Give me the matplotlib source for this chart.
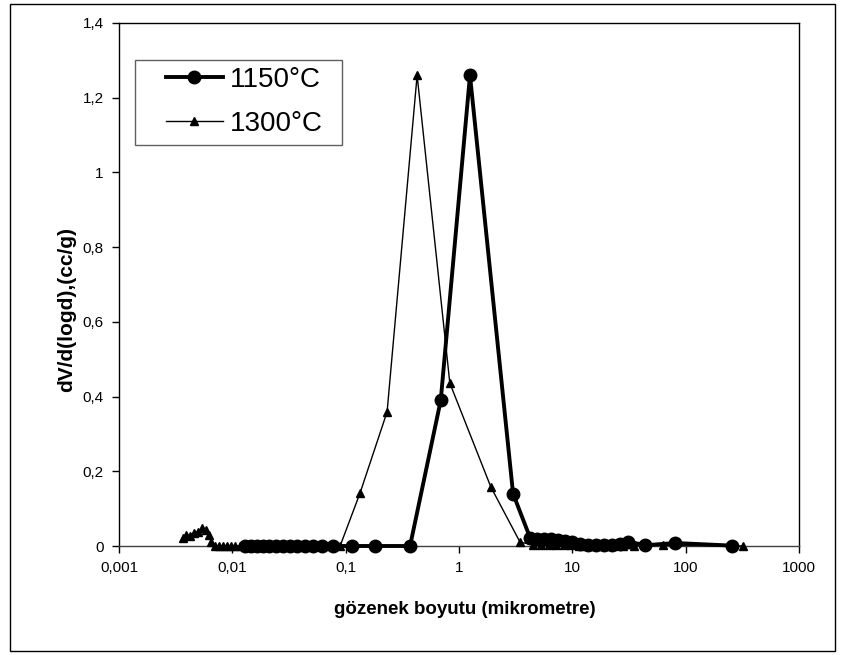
import matplotlib
matplotlib.use("Agg")
import matplotlib.pyplot as plt
from matplotlib.patches import Rectangle
from matplotlib.ticker import FixedLocator, NullLocator

plt.rcParams['font.family'] = ['Liberation Sans', 'DejaVu Sans']

# ---- data ----
x_1150 = [0.0129, 0.0146, 0.0165, 0.0187, 0.0211, 0.0243, 0.0280, 0.0323, 0.0372,
          0.0438, 0.0516, 0.0619, 0.0774, 0.114, 0.182, 0.37, 0.69, 1.25, 3.0,
          4.24, 4.9, 5.6, 6.5, 7.5, 8.6, 10.0, 11.7, 13.8, 16.3, 19.0, 22.4, 26.4,
          31.0, 44.0, 81.0, 257.0]
y_1150 = [0, 0, 0, 0, 0, 0, 0, 0, 0,
          0, 0, 0, 0, 0, 0, 0, 0.39, 1.26, 0.14,
          0.022, 0.02, 0.018, 0.019, 0.017, 0.014, 0.01, 0.006, 0.004, 0.003, 0.003, 0.004, 0.005,
          0.012, 0.002, 0.008, 0.001]

x_1300 = [0.00367, 0.0039, 0.00424, 0.00459, 0.00498, 0.0054, 0.00586, 0.00622, 0.00649,
          0.00703, 0.00763, 0.00828, 0.00898, 0.00975, 0.01057, 0.0117, 0.01294, 0.01433,
          0.01619, 0.01829, 0.02066, 0.0238, 0.0275, 0.0323, 0.038, 0.0456, 0.056, 0.070,
          0.0893, 0.134, 0.232, 0.427, 0.83, 1.91, 3.46,
          4.5, 5.3, 6.2, 7.2, 8.4, 9.8, 11.5, 13.5, 16.0, 19.0, 23.0, 28.0, 35.0, 63.0, 322.0]
y_1300 = [0.022, 0.029, 0.027, 0.036, 0.038, 0.048, 0.044, 0.03, 0.012,
          0, 0, 0, 0, 0, 0, 0, 0, 0,
          0, 0, 0, 0, 0, 0, 0, 0, 0, 0,
          0, 0.142, 0.359, 1.26, 0.436, 0.158, 0.01,
          0.004, 0.004, 0.003, 0.003, 0.002, 0.002, 0.001, 0.001, 0.001, 0.001, 0.001, 0.001, 0.001, 0.002, 0.0]

labels = ['1150°C', '1300°C']
x_ticks = [0.001, 0.01, 0.1, 1, 10, 100, 1000]
x_tick_labels = ['0,001', '0,01', '0,1', '1', '10', '100', '1000']
y_ticks = [0, 0.2, 0.4, 0.6, 0.8, 1.0, 1.2, 1.4]
y_tick_labels = ['0', '0,2', '0,4', '0,6', '0,8', '1', '1,2', '1,4']

W, H = 842, 655
fig = plt.figure(figsize=(W / 100, H / 100), dpi=100)
fig.patch.set_facecolor('white')

def fx(px):
    return px / W

def fy(py):
    return 1 - py / H

# outer chart border
fig.add_artist(Rectangle((fx(10), fy(651)), (835 - 10) / W, (651 - 4) / H,
                         transform=fig.transFigure, fill=False, edgecolor='black', lw=1.0))

ax_l, ax_r, ax_t, ax_b = 119, 799, 23, 546
ax = fig.add_axes([fx(ax_l), fy(ax_b), (ax_r - ax_l) / W, (ax_b - ax_t) / H])
ax.set_xscale('log')
ax.set_xlim(0.001, 1000)
ax.set_ylim(0, 1.4)

ax.plot(x_1150, y_1150, color='black', lw=2.8, marker='o', markersize=9,
        label=labels[0], clip_on=False, zorder=3)
ax.plot(x_1300, y_1300, color='black', lw=1.0, marker='^', markersize=5.5,
        label=labels[1], clip_on=False, zorder=4)

ax.xaxis.set_major_locator(FixedLocator(x_ticks))
ax.xaxis.set_minor_locator(NullLocator())
ax.set_xticklabels(x_tick_labels)
ax.set_yticks(y_ticks)
ax.set_yticklabels(y_tick_labels)
ax.tick_params(axis='both', direction='out', length=5, width=1, labelsize=11, colors='black', pad=6)

for s in ['left', 'bottom', 'top', 'right']:
    ax.spines[s].set_color('black')
    ax.spines[s].set_linewidth(1.0)
ax.spines['bottom'].set_color('#404040')

ax.set_xlabel('gözenek boyutu (mikrometre)', fontsize=13.5, fontweight='bold')
ax.set_ylabel('dV/d(logd),(cc/g)', fontsize=15, fontweight='bold')
ax.xaxis.set_label_coords((465 - ax_l) / (ax_r - ax_l), -(609 - ax_b) / (ax_b - ax_t))
ax.xaxis.label.set_va('center')
ax.yaxis.set_label_coords(-(ax_l - 67) / (ax_r - ax_l), 1 - (310 - ax_t) / (ax_b - ax_t))
ax.yaxis.label.set_va('center')

# legend box drawn separately, entries without frame
fig.add_artist(Rectangle((fx(135), fy(145)), (342 - 135) / W, (145 - 60) / H,
                         transform=fig.transFigure, fill=False, edgecolor='#606060', lw=1.0, zorder=5))
leg = fig.legend(loc='upper left', bbox_to_anchor=(fx(166), fy(67)),
                 bbox_transform=fig.transFigure,
                 fontsize=20, frameon=False,
                 handlelength=2.05, handletextpad=0.25, borderpad=0.0, labelspacing=0.64,
                 borderaxespad=0)

fig.savefig('out.png', dpi=100, facecolor='white')
